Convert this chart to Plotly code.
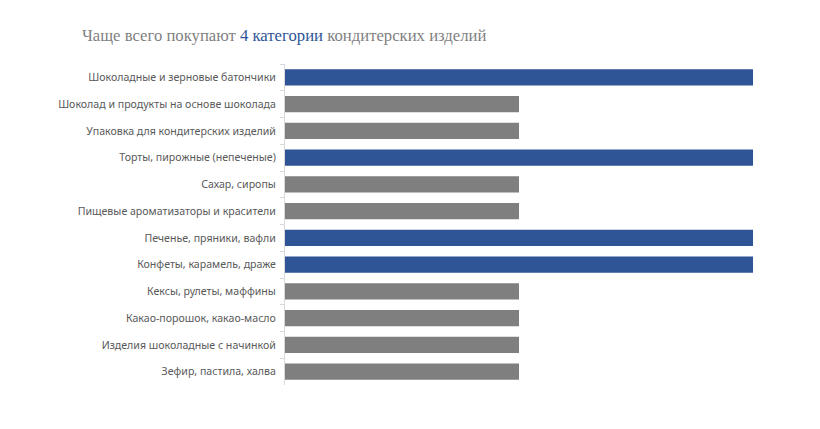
import plotly.graph_objects as go

categories = [
    "Шоколадные и зерновые батончики",
    "Шоколад и продукты на основе шоколада",
    "Упаковка для кондитерских изделий",
    "Торты, пирожные (непеченые)",
    "Сахар, сиропы",
    "Пищевые ароматизаторы и красители",
    "Печенье, пряники, вафли",
    "Конфеты, карамель, драже",
    "Кексы, рулеты, маффины",
    "Какао-порошок, какао-масло",
    "Изделия шоколадные с начинкой",
    "Зефир, пастила, халва",
]
values = [2, 1, 1, 2, 1, 1, 2, 2, 1, 1, 1, 1]
top_flags = [True, False, False, True, False, False, True, True, False, False, False, False]

BLUE = "#2F5597"
GRAY = "#7F7F7F"
colors = [BLUE if f else GRAY for f in top_flags]

fig = go.Figure(go.Bar(
    x=values,
    y=categories,
    orientation="h",
    marker=dict(color=colors, line=dict(width=0)),
    width=0.6,
    hoverinfo="x+y",
))

fig.update_layout(
    width=820, height=429,
    margin=dict(l=285, r=67, t=64, b=44),
    paper_bgcolor="white",
    plot_bgcolor="white",
    showlegend=False,
    title=dict(
        text="Чаще всего покупают <span style='color:#2F5597'>4 категории</span> кондитерских изделий",
        x=82/820, xanchor="left", xref="container",
        y=1 - 35/429, yanchor="middle", yref="container",
        font=dict(family="Liberation Serif", size=16.7, color="#7F7F7F"),
    ),
    xaxis=dict(
        range=[0, 2], visible=False, showgrid=False, zeroline=False, fixedrange=True,
    ),
    yaxis=dict(
        autorange="reversed",
        showline=True, linecolor="#D9D9D9", linewidth=1,
        ticks="outside", tickson="boundaries", ticklen=4, tickcolor="#D9D9D9",
        ticklabelstandoff=6,
        tickfont=dict(family="Noto Sans", size=10.6, color="#595959"),
        showgrid=False, zeroline=False,
    ),
    bargap=0.4,
)

fig.write_html("out.html")
